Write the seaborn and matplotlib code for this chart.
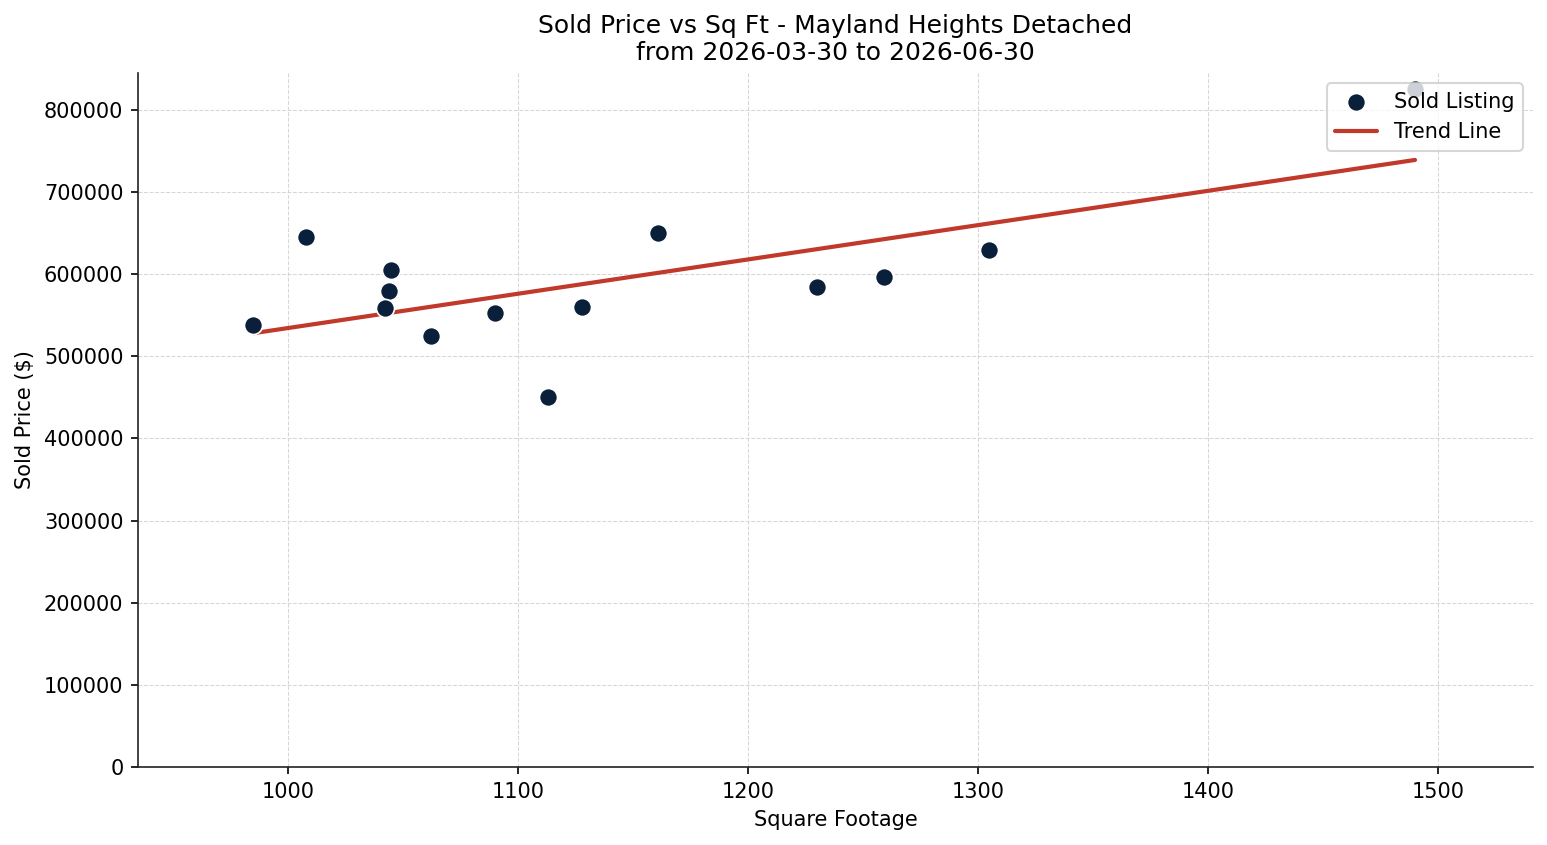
import numpy as np
import pandas as pd
import matplotlib
matplotlib.use("Agg")
import matplotlib.pyplot as plt
import seaborn as sns

sqft = [985, 1008, 1045, 1044, 1042, 1062, 1090, 1113, 1128, 1161, 1230, 1259, 1305, 1490]
price = [538000, 645000, 605000, 580000, 559000, 525000, 553000, 450000, 560000, 650000,
         585000, 597000, 630000, 825000]
title = "Sold Price vs Sq Ft - Mayland Heights Detached\nfrom 2026-03-30 to 2026-06-30"

sns.set_style("ticks", {"text.color": "black", "axes.labelcolor": "black",
                        "xtick.color": "black", "ytick.color": "black",
                        "axes.edgecolor": "#222222"})
plt.rcParams['font.family'] = ['DejaVu Sans']

df = pd.DataFrame({"sqft": sqft, "price": price})
fig, ax = plt.subplots(figsize=(1547/150, 845/150), dpi=150)
fig.subplots_adjust(left=138/1547, right=1533/1547, top=1-73/845, bottom=1-767/845)

sns.scatterplot(data=df, x="sqft", y="price", ax=ax, color="#0a1f3a", s=75,
                edgecolor="white", linewidth=0.8, label="Sold Listing", zorder=3)
coef = np.polyfit(df["sqft"], df["price"], 1)
xs = np.array([df["sqft"].min(), df["sqft"].max()])
sns.lineplot(x=xs, y=np.polyval(coef, xs), ax=ax, color="#c0392b", linewidth=2,
             label="Trend Line", zorder=2)

ax.set_xlim(934.8, 1541.3)
ax.set_ylim(0, 845000)
ax.set_xticks([1000, 1100, 1200, 1300, 1400, 1500])
ax.set_yticks(np.arange(0, 800001, 100000))
ax.ticklabel_format(style='plain', axis='y')
ax.grid(True, linestyle='--', linewidth=0.5, color='#d6d6d6')
ax.set_axisbelow(True)
sns.despine(ax=ax)
ax.set_xlabel("Square Footage", fontsize=10, color="black")
ax.set_ylabel("Sold Price ($)", fontsize=10, color="black")
ax.set_title(title, fontsize=12, color="black")
leg = ax.legend(loc="upper right", fontsize=10)
for t in leg.get_texts():
    t.set_color("black")
fig.savefig("out.png", dpi=150)
